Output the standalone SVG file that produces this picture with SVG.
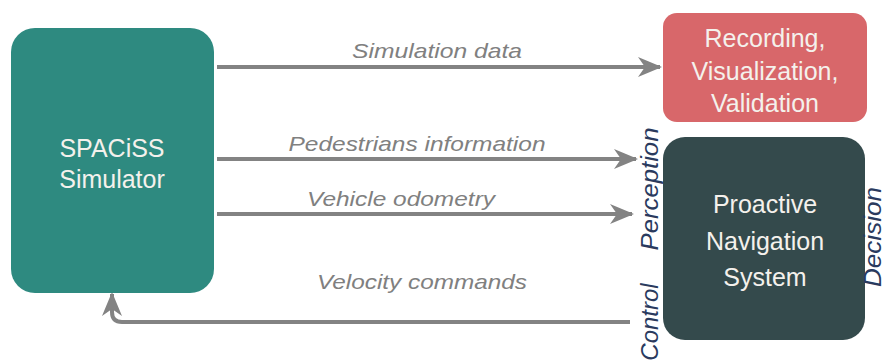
<svg xmlns="http://www.w3.org/2000/svg" width="886" height="363" viewBox="0 0 886 363">
<defs>
<style>
.box{stroke:none}
.nt{font-family:"Liberation Sans",Arial,sans-serif;font-size:25px;fill:#f4f1ec;text-anchor:middle}
.el{font-family:"Liberation Sans",Arial,sans-serif;font-size:21px;font-style:italic;fill:#808080;text-anchor:middle}
.side{font-family:"Liberation Sans",Arial,sans-serif;font-size:24px;font-style:italic;fill:#2a3a5e;text-anchor:middle}
.conn{fill:none;stroke:#838383;stroke-width:4}
</style>
<marker id="ah" viewBox="0 0 12 10" refX="11" refY="5" markerWidth="6" markerHeight="5" orient="auto" markerUnits="strokeWidth">
<path d="M0,0 L12,5 L0,10 L3.5,5 z" fill="#838383"/>
</marker>
</defs>
<rect width="886" height="363" fill="#ffffff"/>
<g id="connectors">
<path class="conn" d="M217,67 H660" marker-end="url(#ah)"/>
<path class="conn" d="M217,159 H636" marker-end="url(#ah)"/>
<path class="conn" d="M217,214 H632" marker-end="url(#ah)"/>
<path class="conn" d="M630,322 H122 Q112,322 112,312 V294" marker-end="url(#ah)"/>
<text class="el" x="437" y="58" textLength="170" lengthAdjust="spacingAndGlyphs">Simulation data</text>
<text class="el" x="417" y="151" textLength="257" lengthAdjust="spacingAndGlyphs">Pedestrians information</text>
<text class="el" x="401" y="206" textLength="188" lengthAdjust="spacingAndGlyphs">Vehicle odometry</text>
<text class="el" x="422" y="289" textLength="210" lengthAdjust="spacingAndGlyphs">Velocity commands</text>
</g>
<g id="spaciss">
<rect class="box" x="11" y="28" width="203" height="265" rx="24" fill="#2e8a80"/>
<text class="nt" x="112" y="157">SPACiSS</text>
<text class="nt" x="112" y="188">Simulator</text>
</g>
<g id="recording">
<rect class="box" x="663" y="13" width="204" height="109" rx="14" fill="#d8676a"/>
<text class="nt" x="765" y="47">Recording,</text>
<text class="nt" x="765" y="80">Visualization,</text>
<text class="nt" x="765" y="112">Validation</text>
</g>
<g id="navigation">
<rect class="box" x="663" y="137" width="202" height="203" rx="22" fill="#344a4c"/>
<text class="nt" x="765" y="213">Proactive</text>
<text class="nt" x="765" y="250">Navigation</text>
<text class="nt" x="765" y="286">System</text>
<text class="side" transform="translate(658,189) rotate(-90)" textLength="123" lengthAdjust="spacingAndGlyphs">Perception</text>
<text class="side" transform="translate(658,322) rotate(-90)">Control</text>
<text class="side" transform="translate(881,237) rotate(-90)" textLength="100" lengthAdjust="spacingAndGlyphs">Decision</text>
</g>
</svg>
